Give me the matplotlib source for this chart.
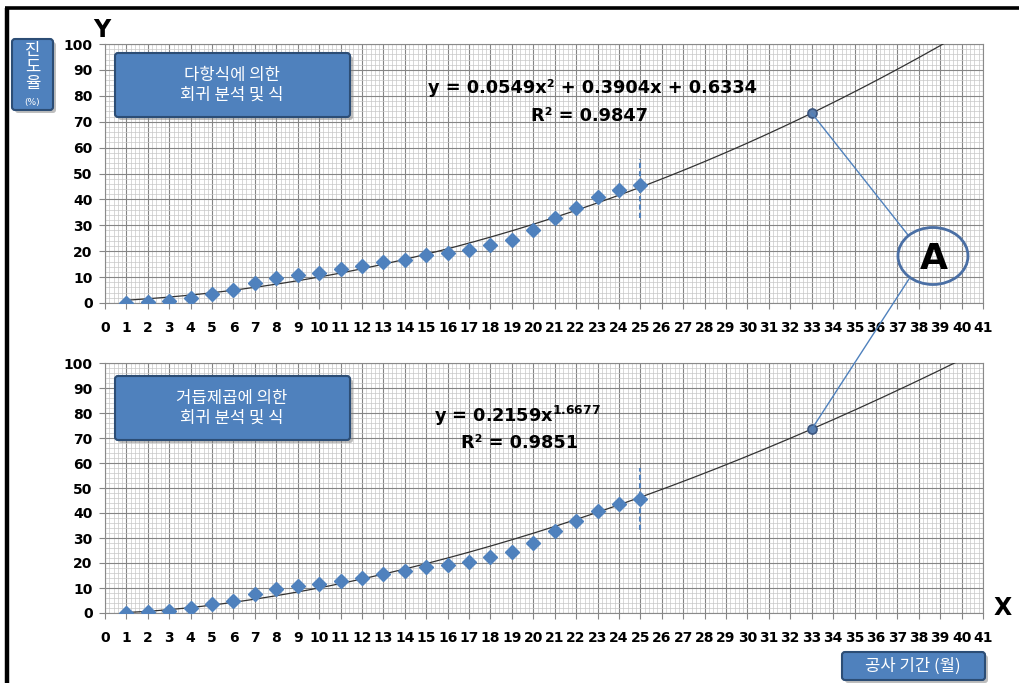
import numpy as np
import matplotlib
matplotlib.use("Agg")
import matplotlib.pyplot as plt
from matplotlib.patches import FancyBboxPatch, Ellipse, ConnectionPatch
from matplotlib.ticker import MultipleLocator

plt.rcParams['font.family'] = ['DejaVu Sans']
plt.rcParams['mathtext.fontset'] = 'dejavusans'
plt.rcParams['mathtext.default'] = 'bf'
KR = ['Noto Sans CJK KR', 'DejaVu Sans']

# data (month, progress %)
months = list(range(1, 26))
progress = [0.0, 0.3, 0.8, 2.1, 3.5, 5.0, 7.6, 9.5, 10.7, 11.7, 13.0, 14.2, 15.7,
            16.7, 18.5, 19.4, 20.5, 22.4, 24.5, 28.1, 32.7, 36.7, 40.8, 43.8, 45.6]

# trend lines from the equations on the chart
poly_coef = [0.0549, 0.3904, 0.6334]
pow_a, pow_b = 0.2159, 1.6677
poly_label = "y = 0.0549x² + 0.3904x + 0.6334"
poly_r2 = "R² = 0.9847"
pow_label = "y = 0.2159x$^{1.6677}$"
pow_r2 = "R² = 0.9851"

# point A on both curves
point_x = 33
point_y = [73.3, 73.5]
cut_x = 25
cut_top = (32.8, 55.6)
cut_bot = (33.2, 58.0)

x_ticks = list(range(0, 42))
y_ticks = list(range(0, 101, 10))

W, H = 1019, 683
blue = '#4F81BD'

fig = plt.figure(figsize=(W / 100, H / 100), dpi=100)
ax1 = fig.add_axes([105 / W, 1 - 303 / H, 878 / W, 259 / H])
ax2 = fig.add_axes([105 / W, 1 - 613 / H, 878 / W, 250 / H])

xs = np.linspace(1, 41, 400)
for ax in (ax1, ax2):
    ax.set_xlim(0, 41)
    ax.set_ylim(0, 100)
    ax.set_xticks(x_ticks)
    ax.set_yticks(y_ticks)
    ax.xaxis.set_minor_locator(MultipleLocator(0.2))
    ax.yaxis.set_minor_locator(MultipleLocator(2))
    ax.grid(which='minor', color='#c8c8c8', lw=0.5)
    ax.grid(which='major', color='#858585', lw=0.8)
    ax.set_axisbelow(True)
    ax.tick_params(which='minor', length=0)
    ax.tick_params(which='major', direction='out', length=4, color='#868686',
                   labelsize=10)
    ax.tick_params(axis='x', pad=9)
    ax.tick_params(axis='y', pad=5)
    for lab in ax.get_xticklabels() + ax.get_yticklabels():
        lab.set_fontweight('bold')
    for s in ax.spines.values():
        s.set_color('#8a8a8a')
        s.set_linewidth(0.8)
    ax.plot(months, progress, 'D', color=blue, ms=6.8, mec=blue, zorder=4)

ax1.plot(xs, np.polyval(poly_coef, xs), color='#333333', lw=0.9, zorder=3)
ax2.plot(xs, pow_a * xs ** pow_b, color='#333333', lw=0.9, zorder=3)

ax1.vlines(cut_x, *cut_top, colors=blue, linestyles=(0, (2.5, 1.5)), lw=1.5, zorder=5)
ax2.vlines(cut_x, *cut_bot, colors=blue, linestyles=(0, (2.5, 1.5)), lw=1.5, zorder=5)

for ax, py in zip((ax1, ax2), point_y):
    ax.plot(point_x, py, 'o', ms=6.5, color='#5b7fae', mec='#3b5680', mew=1.2, zorder=6)

# overlay in pixel coordinates
ov = fig.add_axes([0, 0, 1, 1], zorder=10)
ov.set_xlim(0, W)
ov.set_ylim(H, 0)
ov.axis('off')
ov.patch.set_alpha(0)

# frame
ov.plot([7, 7], [8, H], color='black', lw=3.2, solid_capstyle='butt')
ov.plot([5, W], [7.5, 7.5], color='black', lw=2.6, solid_capstyle='butt')


def box(x0, y0, x1, y1):
    ov.add_patch(FancyBboxPatch((x0 + 3, y0 + 3), x1 - x0, y1 - y0,
                                boxstyle='round,pad=0,rounding_size=3',
                                fc='#7f7f7f', ec='none', alpha=0.5))
    ov.add_patch(FancyBboxPatch((x0, y0), x1 - x0, y1 - y0,
                                boxstyle='round,pad=0,rounding_size=3',
                                fc=blue, ec='#2c4d75', lw=1.5))


box(115, 53, 350, 117)
ov.text(232, 85, "다항식에 의한\n회귀 분석 및 식", family=KR, color='white',
        fontsize=12, ha='center', va='center', linespacing=1.2)
box(115, 376, 350, 440)
ov.text(232, 408, "거듭제곱에 의한\n회귀 분석 및 식", family=KR, color='white',
        fontsize=12, ha='center', va='center', linespacing=1.2)
box(12, 39, 53, 110)
ov.text(32.5, 67, "진\n도\n율", family=KR, color='white', fontsize=12,
        ha='center', va='center', linespacing=0.95)
ov.text(32.5, 102, "(%)", color='white', fontsize=6.5, ha='center', va='center')
box(842, 652, 985, 680)
ov.text(913, 666, "공사 기간 (월)", family=KR, color='white', fontsize=12,
        ha='center', va='center')

ov.text(102, 30, "Y", fontsize=17, fontweight='bold', ha='center', va='center')
ov.text(1003, 608, "X", fontsize=17, fontweight='bold', ha='center', va='center')

ov.text(593, 88, poly_label, fontsize=12.8, fontweight='bold', ha='center', va='center')
ov.text(590, 116, poly_r2, fontsize=12.8, fontweight='bold', ha='center', va='center')
ov.text(517, 416, pow_label, fontsize=12.8, fontweight='bold', ha='center', va='center')
ov.text(520, 443, pow_r2, fontsize=12.8, fontweight='bold', ha='center', va='center')

ov.add_patch(Ellipse((933, 256), 70, 57, fc='none', ec='#4a6fa5', lw=2))
ov.text(934, 259, "A", fontsize=26, fontweight='heavy', ha='center', va='center')

for ax, py, end in ((ax1, point_y[0], (908, 235)), (ax2, point_y[1], (909, 279))):
    con = ConnectionPatch(xyA=(point_x, py), coordsA=ax.transData,
                          xyB=end, coordsB=ov.transData, color=blue, lw=1)
    fig.add_artist(con)

fig.savefig('out.png', dpi=100)
